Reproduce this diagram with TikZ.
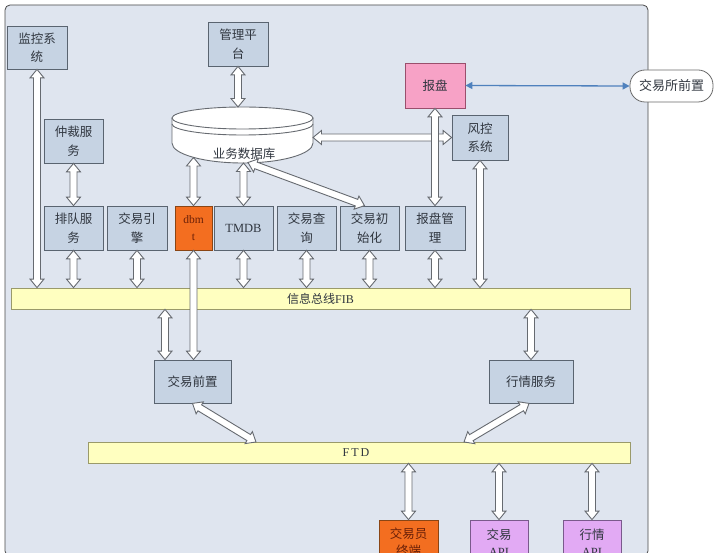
\documentclass[tikz,border=0pt]{standalone}
\usepackage{fontspec}
\setmainfont{Liberation Serif}
\newfontfamily\cjk{Noto Sans CJK SC}
\newfontfamily\lat{Liberation Serif}
\usetikzlibrary{calc,arrows.meta}
\definecolor{panelfill}{HTML}{DFE5EF}
\definecolor{panelborder}{HTML}{4A4A4A}
\definecolor{boxfill}{HTML}{C6D3E3}
\definecolor{boxborder}{HTML}{5A6470}
\definecolor{txt}{HTML}{30363F}
\definecolor{arrowgray}{HTML}{666A70}
\definecolor{busfill}{HTML}{FFFFC0}
\definecolor{busborder}{HTML}{9A9A6A}
\definecolor{orangefill}{HTML}{F36E20}
\definecolor{orangeborder}{HTML}{8A4514}
\definecolor{orangetxt}{HTML}{6A2008}
\definecolor{pinkfill}{HTML}{F7A2C6}
\definecolor{pinkborder}{HTML}{9A4F6C}
\definecolor{purplefill}{HTML}{E2AAF4}
\definecolor{purpleborder}{HTML}{7A5A8C}
\definecolor{bluelink}{HTML}{4F81BD}
\definecolor{capborder}{HTML}{6A6A6A}
\tikzset{
  box/.style={draw=boxborder, fill=boxfill, line width=0.8pt, inner sep=0pt,
    align=center, text=txt, font={\cjk\fontsize{12.5}{18.5}\selectfont}},
  rowbox/.style={box, minimum height=44pt},
  bus/.style={draw=busborder, fill=busfill, line width=0.8pt, inner sep=0pt,
    minimum height=21pt, text=txt, font={\cjk\fontsize{12}{14}\selectfont}},
  harrow/.style={fill=white, draw=arrowgray, line width=0.9pt, line join=miter},
  bluearrow/.style={draw=bluelink, line width=1.3pt,
    {Triangle[length=7pt,width=7pt]}-{Triangle[length=7pt,width=7pt]}},
  dbline/.style={draw=arrowgray, line width=0.9pt}
}
\newcommand\dblarrow[2]{%
  \draw[harrow] (#1)
    -- ($(#1)!8.5pt!(#2)!7pt!90:(#2)$)
    -- ($(#1)!8.5pt!(#2)!3.5pt!90:(#2)$)
    -- ($(#2)!8.5pt!(#1)!3.5pt!-90:(#1)$)
    -- ($(#2)!8.5pt!(#1)!7pt!-90:(#1)$)
    -- (#2)
    -- ($(#2)!8.5pt!(#1)!7pt!90:(#1)$)
    -- ($(#2)!8.5pt!(#1)!3.5pt!90:(#1)$)
    -- ($(#1)!8.5pt!(#2)!3.5pt!-90:(#2)$)
    -- ($(#1)!8.5pt!(#2)!7pt!-90:(#2)$)
    -- cycle;}
\begin{document}
\begin{tikzpicture}[x=1pt,y=-1pt]
\useasboundingbox (0,0) rectangle (720,553);
\clip (0,0) rectangle (720,553);
\fill[white] (0,0) rectangle (720,553);
% panel
\draw[fill=panelfill, draw=panelborder, line width=0.8pt, rounded corners=5pt] (5,5) rectangle (648,556);

% buses
\node[bus, minimum width=619pt] (fib) at (320.5,298.5) {信息总线{\lat FIB}};
\node[bus, minimum width=542pt] (ftd) at (359,452.5) {\hspace*{-6pt}{\lat F\,T\,D}};

% top boxes
\node[box, minimum width=60pt, minimum height=43pt] (jk) at (37,47.5) {监控系\\统};
\node[box, minimum width=60pt, minimum height=44pt] (gl) at (238,44) {管理平\\台};
\node[box, minimum width=59pt, minimum height=44pt] (zc) at (73.5,141) {仲裁服\\务};
\node[box, fill=pinkfill, draw=pinkborder, minimum width=60pt, minimum height=45pt] (bp) at (435,85.5) {报盘};
\node[box, minimum width=56pt, minimum height=45pt] (fk) at (480,137.5) {风控\\系统};
\node[draw=capborder, fill=white, line width=0.8pt, rounded corners=15pt, minimum width=83pt, minimum height=32pt, inner sep=0pt, text=txt, font={\cjk\fontsize{13}{15}\selectfont}] (jys) at (671.5,86) {交易所前置};

% database cylinder
\node[inner sep=0pt, minimum width=141pt, minimum height=56pt] (db) at (242.5,135) {};
\fill[white] (172,118) -- (172,143) arc[start angle=180, end angle=360, x radius=70.5pt, y radius=20pt]
  -- (313,118) arc[start angle=0, end angle=180, x radius=70.5pt, y radius=11pt] -- cycle;
\draw[dbline] (172,118) -- (172,143) arc[start angle=180, end angle=360, x radius=70.5pt, y radius=20pt] -- (313,118);
\draw[dbline] (242.5,118) ellipse[x radius=70.5pt, y radius=11pt];
\draw[dbline] (172,124) arc[start angle=180, end angle=360, x radius=70.5pt, y radius=11pt];
\node[text=txt, font={\cjk\fontsize{12.5}{15}\selectfont}, inner sep=0pt] (dblabel) at (244,154) {业务数据库};

% row of services
\node[rowbox, minimum width=59pt] (pd) at (73.5,228) {排队服\\务};
\node[rowbox, minimum width=60pt] (yq) at (137,228) {交易引\\擎};
\node[rowbox, fill=orangefill, draw=orangeborder, text=orangetxt, minimum width=37pt, font={\lat\fontsize{11.5}{17}\selectfont}] (dbmt) at (193.5,228) {dbm\\t};
\node[rowbox, minimum width=59pt] (tmdb) at (243.5,228) {\lat TMDB};
\node[rowbox, minimum width=59pt] (cx) at (306.5,228) {交易查\\询};
\node[rowbox, minimum width=59pt] (csh) at (369.5,228) {交易初\\始化};
\node[rowbox, minimum width=60pt] (bpgl) at (435,228) {报盘管\\理};

% middle
\node[box, minimum width=77pt, minimum height=43pt] (qz) at (192.5,381.5) {交易前置};
\node[box, minimum width=84pt, minimum height=43pt] (hq) at (531,381.5) {行情服务};

% bottom (cut by the lower edge as in the reference)
\node[box, fill=orangefill, draw=orangeborder, text=orangetxt, minimum width=59pt, minimum height=45pt, font={\cjk\fontsize{12.5}{17}\selectfont}] (zd) at (408.5,542.5) {交易员\\终端};
\node[box, fill=purplefill, draw=purpleborder, minimum width=58pt, minimum height=45pt, font={\cjk\fontsize{12.5}{17}\selectfont}] (api1) at (499,542.5) {交易\\{\lat API}};
\node[box, fill=purplefill, draw=purpleborder, minimum width=58pt, minimum height=45pt, font={\cjk\fontsize{12.5}{17}\selectfont}] (api2) at (592,542.5) {行情\\{\lat API}};

% connector end points
\coordinate (jkF) at (jk.south |- fib.north);
\coordinate (glD) at (238,107);
\coordinate (dbA) at (193.5,157.5);
\coordinate (dbB) at (243.5,163);
\coordinate (dbC) at (248,162.5);
\coordinate (cshT) at ([xshift=-5pt]csh.north);
\coordinate (dbE) at (313,137.5);
\coordinate (fkF) at (fk.south |- fib.north);
\coordinate (dbmtQ) at (dbmt.south |- qz.north);
\coordinate (qzA) at ([xshift=-27.5pt]qz.north);
\coordinate (fibQ) at (qzA |- fib.south);
\coordinate (fibH) at (hq.north |- fib.south);
\coordinate (ftdA) at (256,442);
\coordinate (hqB) at ([xshift=-2pt]hq.south);
\coordinate (ftdB) at (464,442);
\coordinate (zdF) at (zd.north |- ftd.south);
\coordinate (api1F) at (api1.north |- ftd.south);
\coordinate (api2F) at (api2.north |- ftd.south);

% connectors
\dblarrow{jk.south}{jkF}
\dblarrow{gl.south}{glD}
\dblarrow{zc.south}{pd.north}
\dblarrow{dbA}{dbmt.north}
\dblarrow{dbB}{tmdb.north}
\dblarrow{dbC}{cshT}
\dblarrow{dbE}{fk.west}
\dblarrow{bp.south}{bpgl.north}
\dblarrow{fk.south}{fkF}
\foreach \n in {pd,yq,tmdb,cx,csh,bpgl}{
  \coordinate (\n-F) at (\n.south |- fib.north);
  \dblarrow{\n.south}{\n-F}
}
\dblarrow{dbmt.south}{dbmtQ}
\dblarrow{fibQ}{qzA}
\dblarrow{fibH}{hq.north}
\dblarrow{qz.south}{ftdA}
\dblarrow{hqB}{ftdB}
\dblarrow{zdF}{zd.north}
\dblarrow{api1F}{api1.north}
\dblarrow{api2F}{api2.north}
\draw[bluearrow] (bp.east) -- (jys.west);
\end{tikzpicture}
\end{document}
